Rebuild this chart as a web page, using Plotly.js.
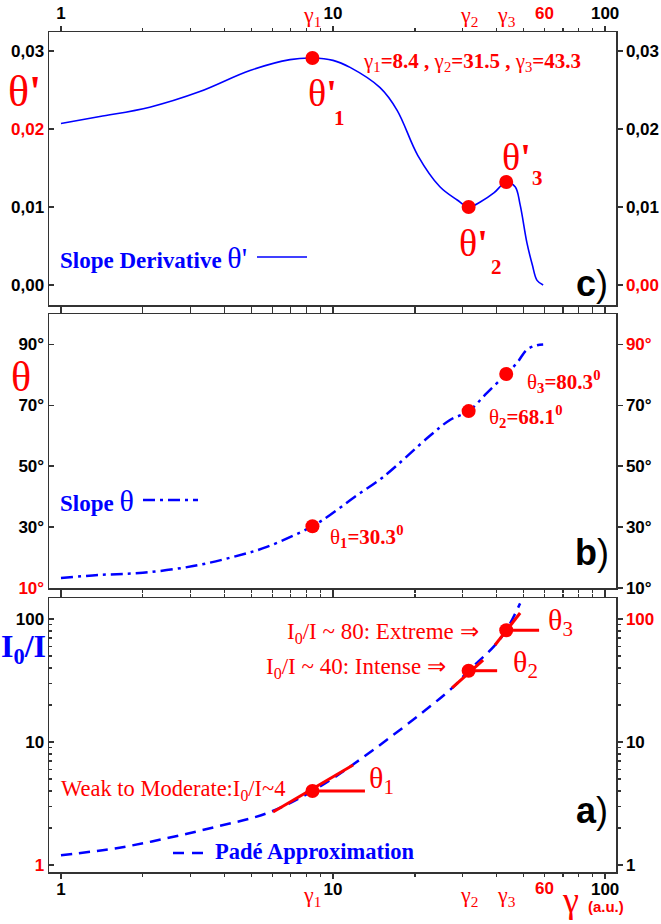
<!DOCTYPE html>
<html>
<head>
<meta charset="utf-8">
<script src="https://cdn.plot.ly/plotly-3.0.1.min.js"></script>
<style>html,body{margin:0;padding:0;background:#fff;}</style>
</head>
<body>
<div id="chart" style="width:661px;height:924px;"></div>
<script>
// ---------- DATA ----------
// panel c) slope derivative theta'
const gammaC = [1, 1.39, 2.12, 3.24, 4.95, 6.95, 8.4, 10, 11.55, 14.89, 17.2, 20.5, 24.7, 28.6, 31.5, 35, 39, 43.3, 46.7, 48.7, 51.6, 54, 56.2, 59.2];
const thetaPrime = [0.0207, 0.0216, 0.0228, 0.0248, 0.0275, 0.0289, 0.0291, 0.0288, 0.0279, 0.0253, 0.0224, 0.0166, 0.0126, 0.0109, 0.0100, 0.0107, 0.0118, 0.0132, 0.0126, 0.0103, 0.0054, 0.0026, 0.0006, 0.0000];
// panel b) slope theta (degrees)
const gammaB = [1, 1.39, 2, 3.06, 4.29, 5.71, 8.4, 9.75, 12, 15.3, 22.7, 26.9, 31.5, 36.8, 43.3, 47.5, 51.6, 56, 59.2];
const thetaDeg = [13.3, 14.3, 15.0, 17.2, 20.2, 23.5, 30.3, 34.0, 39.9, 46.5, 60.0, 65.2, 68.1, 74.1, 80.3, 84.0, 88.3, 89.7, 90.0];
// panel a) Pade approximation I0/I
const gammaA = [1, 1.6, 2.45, 3.73, 5.7, 8.4, 12.75, 27.3, 31.5, 39.1, 43.3, 48.7];
const intensityRatio = [1.2, 1.37, 1.65, 2.05, 2.63, 4.0, 7.37, 27.3, 38, 60.3, 81, 134];
// marked points
const gammaMarks = [8.4, 31.5, 43.3];
const thetaPrimeMarks = [0.0291, 0.0100, 0.0132];
const thetaMarks = [30.3, 68.1, 80.3];
const ratioMarks = [4.0, 38, 81];
// tangent segments and horizontal references (panel a)
const tangentX = [6.02, 11.85, null, 27.4, 35.6, null, 39.4, 48.7];
const tangentY = [2.70, 6.5, null, 27.5, 46.4, null, 61.5, 112];
const horizX = [8.4, 13.1, null, 31.5, 40.1, null, 43.3, 57.2];
const horizY = [4.0, 4.0, null, 38, 38, null, 81, 81];
// ticks
const xMajor = [1, 10, 100];
const xMajorText = ['<b>1</b>', '<b>10</b>', '<b>100</b>'];
const xMinor = [2,3,4,5,6,7,8,9,20,30,40,50,60,70,80,90];
const gammaLabels = ['γ<sub>1</sub>', 'γ<sub>2</sub>', 'γ<sub>3</sub>'];
const sixtyTick = 60;
const cTicks = [0, 0.01, 0.02, 0.03];
const cTextLeft = ['<b>0,00</b>', '<b>0,01</b>', '<b><span style="color:#ff0000">0,02</span></b>', '<b>0,03</b>'];
const cTextRight = ['<b><span style="color:#ff0000">0,00</span></b>', '<b>0,01</b>', '<b>0,02</b>', '<b>0,03</b>'];
const bTicks = [10, 30, 50, 70, 90];
const bTextLeft = ['<b><span style="color:#ff0000">10°</span></b>', '<b>30°</b>', '<b>50°</b>', '<b>70°</b>', '<b>90°</b>'];
const bTextRight = ['<b>10°</b>', '<b>30°</b>', '<b>50°</b>', '<b>70°</b>', '<b><span style="color:#ff0000">90°</span></b>'];
const aTicks = [1, 10, 100];
const aTextLeft = ['<b><span style="color:#ff0000">1</span></b>', '<b>10</b>', '<b>100</b>'];
const aTextRight = ['<b>1</b>', '<b>10</b>', '<b><span style="color:#ff0000">100</span></b>'];
const aMinor = [2,3,4,5,6,7,8,9,20,30,40,50,60,70,80,90];

// ---------- STYLE ----------
const RED = '#ff0000', BLUE = '#0000ff', AX = '#333333';
const SERIF = 'Liberation Serif, Times New Roman, serif';
const SANS = 'Liberation Sans, Arial, sans-serif';
const L = 49, R = 616, T = 32, B = 872;
const px = x => (x - L) / (R - L);
const py = y => (B - y) / (B - T);

const tickFont = {family: SANS, size: 17, color: '#000'};
const xBase = {
  type: 'log', range: [-0.044, 2.040], showgrid: false, zeroline: false,
  showline: true, linecolor: AX, linewidth: 1.5, mirror: 'ticks',
  ticks: 'outside', ticklen: 5, tickwidth: 1.5, tickcolor: AX,
  tickmode: 'array', tickvals: xMajor, ticktext: xMajorText, tickfont: tickFont,
  minor: {tickmode: 'array', tickvals: xMinor, ticks: 'outside', ticklen: 3, tickwidth: 1.2, tickcolor: AX}
};
function yAxis(o) {
  return Object.assign({
    showgrid: false, zeroline: false, showline: true, linecolor: AX, linewidth: 1.5,
    ticklen: 5, tickwidth: 1.5, tickcolor: AX, tickmode: 'array', tickfont: tickFont
  }, o);
}

const traces = [
  {x: gammaC, y: thetaPrime, xaxis: 'x3', yaxis: 'y3', mode: 'lines',
   line: {color: BLUE, width: 1.6, shape: 'spline', smoothing: 1}},
  {x: gammaMarks, y: thetaPrimeMarks, xaxis: 'x3', yaxis: 'y3', mode: 'markers',
   marker: {color: RED, size: 14}},
  {x: gammaB, y: thetaDeg, xaxis: 'x2', yaxis: 'y2', mode: 'lines',
   line: {color: BLUE, width: 2.5, dash: '12px,5px,3px,5px', shape: 'spline', smoothing: 1}},
  {x: gammaMarks, y: thetaMarks, xaxis: 'x2', yaxis: 'y2', mode: 'markers',
   marker: {color: RED, size: 14}},
  {x: gammaA, y: intensityRatio, xaxis: 'x', yaxis: 'y', mode: 'lines',
   line: {color: BLUE, width: 2.5, dash: '11px,7px', shape: 'spline', smoothing: 1}},
  {x: tangentX, y: tangentY, xaxis: 'x', yaxis: 'y', mode: 'lines',
   line: {color: RED, width: 3}, connectgaps: false},
  {x: horizX, y: horizY, xaxis: 'x', yaxis: 'y', mode: 'lines',
   line: {color: RED, width: 3}, connectgaps: false},
  {x: gammaMarks, y: ratioMarks, xaxis: 'x', yaxis: 'y', mode: 'markers',
   marker: {color: RED, size: 14}},
  // empty traces so that the right-hand axes are drawn
  {x: [], y: [], xaxis: 'x', yaxis: 'y4', mode: 'lines'},
  {x: [], y: [], xaxis: 'x2', yaxis: 'y5', mode: 'lines'},
  {x: [], y: [], xaxis: 'x3', yaxis: 'y6', mode: 'lines'}
];

function A(text, x, y, o) {
  o = o || {};
  return {text: text, x: px(x), y: py(y), xref: 'paper', yref: 'paper', showarrow: false,
    xanchor: o.xa || 'center', yanchor: o.ya || 'middle',
    font: {family: o.fam || SERIF, size: o.size || 21, color: o.color || RED}};
}

const annotations = [
  // panel c
  A("θ<b>'</b>", 24, 92, {size: 44}),
  A("γ<sub>1</sub><b>=8.4 , </b>γ<sub>2</sub><b>=31.5 , </b>γ<sub>3</sub><b>=43.3</b>", 472, 62, {size: 21}),
  A("θ<b>'</b>", 322, 93, {size: 38}), A("<b>1</b>", 339, 118, {size: 21}),
  A("θ<b>'</b>", 473, 243, {size: 38}), A("<b>2</b>", 496, 267, {size: 21}),
  A("θ<b>'</b>", 516, 157, {size: 38}), A("<b>3</b>", 537, 178, {size: 21}),
  A("<b>Slope Derivative </b><span style='font-size:30px'>θ'</span>", 58, 257, {xa: 'left', color: BLUE, size: 23}),
  A("<b>c</b>)", 592, 283, {size: 36, fam: SANS, color: '#000'}),
  // panel b
  A("θ", 21, 377, {size: 42}),
  A("θ<sub><b>1</b></sub><b>=30.3<sup>0</sup></b>", 328, 536, {xa: 'left'}),
  A("θ<sub><b>2</b></sub><b>=68.1<sup>0</sup></b>", 487, 416, {xa: 'left'}),
  A("θ<sub><b>3</b></sub><b>=80.3<sup>0</sup></b>", 525, 381, {xa: 'left'}),
  A("<b>Slope </b><span style='font-size:30px'>θ</span>", 58, 500, {xa: 'left', color: BLUE, size: 23}),
  A("<b>b</b>)", 592, 552, {size: 36, fam: SANS, color: '#000'}),
  // panel a
  A("<b>I<sub>0</sub>/I</b>", 23, 648, {size: 32, color: BLUE}),
  A("I<sub>0</sub>/I ~ 80: Extreme ⇒", 481, 633, {xa: 'right', size: 23}),
  A("I<sub>0</sub>/I ~ 40: Intense ⇒", 448, 668, {xa: 'right', size: 23}),
  A("Weak to Moderate:I<sub>0</sub>/I~4", 59, 790, {xa: 'left', size: 22.5}),
  A("θ<sub>1</sub>", 367, 780, {xa: 'left', size: 30}),
  A("θ<sub>2</sub>", 511, 664, {xa: 'left', size: 30}),
  A("θ<sub>3</sub>", 546, 622, {xa: 'left', size: 30}),
  A("<b>Padé Approximation</b>", 213, 851, {xa: 'left', color: BLUE, size: 22.5}),
  A("<b>a</b>)", 592, 810, {size: 36, fam: SANS, color: '#000'}),
  // x axis title
  A("γ <span style='font-size:15px;font-family:Liberation Sans, Arial, sans-serif'><b>(a.u.)</b></span>", 593, 900, {size: 36})
];
// gamma labels on top and bottom axes, positioned by data
gammaMarks.forEach((g, i) => {
  annotations.push({text: gammaLabels[i], x: Math.log10(g), xref: 'x', y: py(896), yref: 'paper',
    yanchor: 'middle', showarrow: false, font: {family: SERIF, size: 22, color: RED}});
  annotations.push({text: gammaLabels[i], x: Math.log10(g), xref: 'x3', y: py(16), yref: 'paper',
    yanchor: 'middle', showarrow: false, font: {family: SERIF, size: 22, color: RED}});
});
[[py(889), 'x'], [py(13), 'x3']].forEach(p => {
  annotations.push({text: '<b>60</b>', x: Math.log10(sixtyTick), xref: p[1], y: p[0], yref: 'paper',
    yanchor: 'middle', showarrow: false, font: {family: SANS, size: 17, color: RED}});
});

const shapes = [
  {type: 'line', xref: 'paper', yref: 'paper', x0: px(257), x1: px(307), y0: py(257), y1: py(257),
   line: {color: BLUE, width: 1.6}},
  {type: 'line', xref: 'paper', yref: 'paper', x0: px(143), x1: px(198), y0: py(500), y1: py(500),
   line: {color: BLUE, width: 2.5, dash: '12px,5px,3px,5px'}},
  {type: 'line', xref: 'paper', yref: 'paper', x0: px(173), x1: px(203), y0: py(853), y1: py(853),
   line: {color: BLUE, width: 2.5, dash: '11px,8px'}}
];

const layout = {
  width: 661, height: 924, margin: {l: L, r: 661 - R, t: T, b: 924 - B},
  paper_bgcolor: '#fff', plot_bgcolor: '#fff', showlegend: false,
  xaxis: Object.assign({}, xBase, {anchor: 'y', domain: [0, 1], ticklabelstandoff: -4}),
  xaxis2: Object.assign({}, xBase, {anchor: 'y2', domain: [0, 1], showticklabels: false}),
  xaxis3: Object.assign({}, xBase, {anchor: 'y3', domain: [0, 1], side: 'top'}),
  yaxis: yAxis({type: 'log', range: [-0.057, 2.171], domain: [0, py(598)], anchor: 'x', ticks: 'inside',
    tickvals: aTicks, ticktext: aTextLeft,
    minor: {tickmode: 'array', tickvals: aMinor, ticks: 'inside', ticklen: 3, tickwidth: 1.2, tickcolor: AX}}),
  yaxis4: yAxis({type: 'log', range: [-0.057, 2.171], overlaying: 'y', side: 'right', anchor: 'x', ticks: 'outside',
    tickvals: aTicks, ticktext: aTextRight,
    minor: {tickmode: 'array', tickvals: aMinor, ticks: 'outside', ticklen: 3, tickwidth: 1.2, tickcolor: AX}}),
  yaxis2: yAxis({range: [10, 100], domain: [py(588), py(314)], anchor: 'x2', ticks: 'inside',
    tickvals: bTicks, ticktext: bTextLeft}),
  yaxis5: yAxis({range: [10, 100], overlaying: 'y2', side: 'right', anchor: 'x2', ticks: 'outside',
    tickvals: bTicks, ticktext: bTextRight}),
  yaxis3: yAxis({range: [-0.00256, 0.03244], domain: [py(305), 1], anchor: 'x3', ticks: 'inside',
    tickvals: cTicks, ticktext: cTextLeft}),
  yaxis6: yAxis({range: [-0.00256, 0.03244], overlaying: 'y3', side: 'right', anchor: 'x3', ticks: 'outside',
    tickvals: cTicks, ticktext: cTextRight}),
  annotations: annotations,
  shapes: shapes
};

Plotly.newPlot('chart', traces, layout, {displayModeBar: false, staticPlot: true});
</script>
</body>
</html>
